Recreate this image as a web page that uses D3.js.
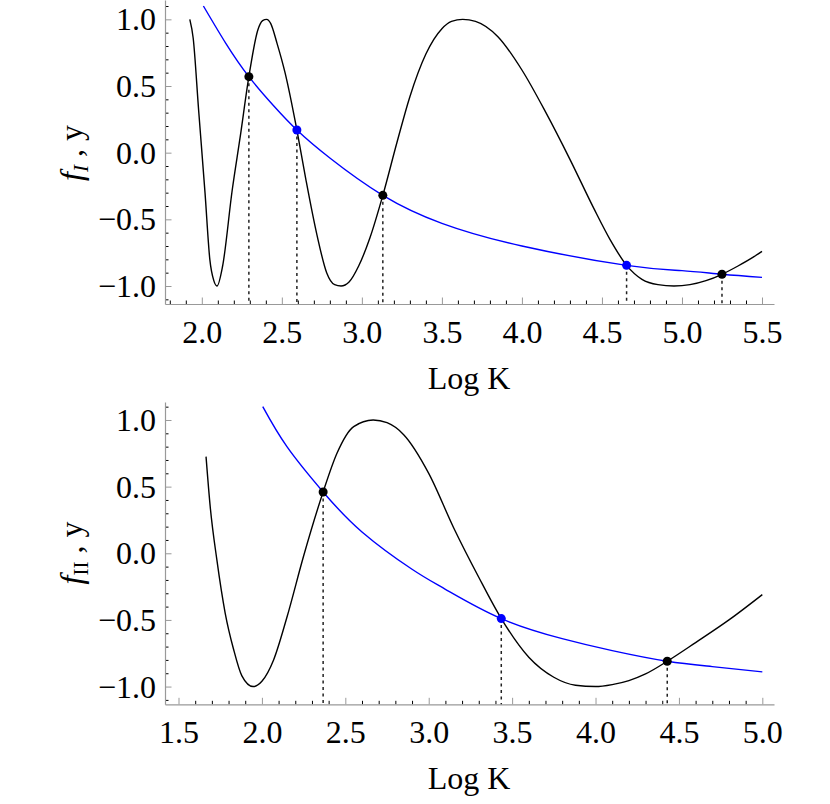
<!DOCTYPE html>
<html lang="en">
<head>
<meta charset="utf-8">
<title>f_I and f_II versus Log K</title>
<script src="https://cdn.jsdelivr.net/npm/d3@7"></script>
<style>
  body { margin: 0; background: #fff; }
  svg text { font-family: "Liberation Serif", "Times New Roman", serif; fill: #000; }
</style>
</head>
<body>
<script>

// top panel (f_I)
var topOsc = [[1.925,1.0],[1.946,0.86],[1.98,0.32],[2.02,-0.3],[2.05,-0.8],[2.075,-0.96],[2.095,-1.0],
  [2.13,-0.85],[2.19,-0.28],[2.24,0.12],[2.294,0.57],[2.35,0.92],[2.38,0.99],[2.405,1.0],
  [2.43,0.97],[2.47,0.82],[2.52,0.6],[2.594,0.17],[2.65,-0.2],[2.72,-0.62],[2.78,-0.9],[2.83,-0.99],[2.87,-1.0],
  [2.92,-0.97],[2.98,-0.85],[3.05,-0.64],[3.131,-0.32],[3.22,0.08],[3.3,0.42],[3.4,0.74],[3.5,0.93],[3.56,0.985],[3.63,1.0],
  [3.71,0.985],[3.85,0.87],[4.0,0.62],[4.15,0.3],[4.3,-0.05],[4.45,-0.42],[4.55,-0.65],[4.654,-0.845],[4.75,-0.95],[4.85,-0.99],[4.95,-1.0],
  [5.05,-0.99],[5.15,-0.96],[5.25,-0.912],[5.35,-0.85],[5.45,-0.78],[5.5,-0.74]];
var topBlue = [[2.01,1.10],[2.15,0.82],[2.294,0.57],[2.45,0.35],[2.594,0.17],[2.8,-0.04],[3.131,-0.32],
  [3.5,-0.53],[4.0,-0.70],[4.654,-0.845],[5.0,-0.885],[5.25,-0.912],[5.5,-0.935]];
var topDots = [[2.294,0.57,"black"],[2.594,0.17,"blue"],[3.131,-0.32,"black"],[4.654,-0.845,"blue"],[5.25,-0.912,"black"]];
var topXTicks = [2.0,2.5,3.0,3.5,4.0,4.5,5.0,5.5];

// bottom panel (f_II)
var botOsc = [[1.665,0.725],[1.69,0.35],[1.73,-0.05],[1.78,-0.45],[1.83,-0.72],[1.88,-0.92],[1.947,-1.0],
  [2.0,-0.96],[2.07,-0.8],[2.15,-0.48],[2.25,-0.02],[2.367,0.46],[2.45,0.75],[2.55,0.95],[2.667,1.0],
  [2.75,0.98],[2.85,0.89],[3.0,0.6],[3.15,0.19],[3.3,-0.18],[3.435,-0.49],[3.6,-0.78],[3.75,-0.93],[3.88,-0.99],[4.0,-1.0],
  [4.1,-0.985],[4.2,-0.955],[4.3,-0.905],[4.43,-0.81],[4.6,-0.67],[4.8,-0.5],[5.0,-0.31]];
var botBlue = [[2.005,1.10],[2.15,0.80],[2.367,0.46],[2.6,0.16],[2.9,-0.12],[3.1,-0.27],[3.435,-0.49],
  [3.8,-0.64],[4.1,-0.73],[4.43,-0.81],[4.7,-0.85],[5.0,-0.89]];
var botDots = [[2.367,0.46,"black"],[3.435,-0.49,"blue"],[4.43,-0.81,"black"]];
var botXTicks = [1.5,2.0,2.5,3.0,3.5,4.0,4.5,5.0];

var yTicks = [-1.0,-0.5,0.0,0.5,1.0];

var svg = d3.select("body").append("svg").attr("width",830).attr("height",804);

function panel(o) {
  var x = d3.scaleLinear().domain(o.xdom).range([165,774]);
  var y = d3.scaleLinear().domain(o.ydom).range(o.yrange);
  var g = svg.append("g");
  var y0 = o.yrange[0];

  var minorX = d3.range(Math.ceil(o.xdom[0]*10), Math.floor(o.xdom[1]*10)+1).map(function(i){return i/10;})
    .filter(function(v){return topXTicks.concat(botXTicks).every(function(t){return Math.abs(t-v)>1e-6;});});
  var minorY = d3.range(-11,12).map(function(i){return i/10;})
    .filter(function(v){return yTicks.every(function(t){return Math.abs(t-v)>1e-6;});});

  // minor ticks
  g.append("g").attr("transform","translate(0,"+y0+")")
    .call(d3.axisBottom(x).tickValues(minorX).tickSize(-3.5).tickSizeOuter(0).tickFormat(""))
    .call(function(a){a.select(".domain").remove();});
  g.append("g").attr("transform","translate(165,0)")
    .call(d3.axisLeft(y).tickValues(minorY).tickSize(-3.5).tickSizeOuter(0).tickFormat(""))
    .call(function(a){a.select(".domain").remove();});

  // major ticks + labels
  var xa = g.append("g").attr("transform","translate(0,"+y0+")")
    .call(d3.axisBottom(x).tickValues(o.xticks).tickSize(-6.5).tickSizeOuter(0).tickPadding(16).tickFormat(d3.format(".1f")));
  var ya = g.append("g").attr("transform","translate(165,0)")
    .call(d3.axisLeft(y).tickValues(yTicks).tickSize(-6.5).tickSizeOuter(0).tickPadding(9)
      .tickFormat(function(d){return d3.format(".1f")(d).replace("-","\u2212");}));
  [xa,ya].forEach(function(a){
    a.selectAll("text").style("font-size","32px").attr("fill","#000");
    a.selectAll("line").attr("stroke","#999");
    a.select(".domain").attr("stroke","#999").attr("stroke-width",1.2);
  });
  ya.selectAll("text").attr("dy","0.33em");

  // dashed drop lines
  g.selectAll(".drop").data(o.dots).enter().append("line")
    .attr("x1",function(d){return x(d[0]);}).attr("x2",function(d){return x(d[0]);})
    .attr("y1",function(d){return y(d[1]);}).attr("y2",y0)
    .attr("stroke","#222").attr("stroke-width",1.5).attr("stroke-dasharray","3,3.5");

  var line = d3.line().x(function(d){return x(d[0]);}).y(function(d){return y(d[1]);});
  g.append("path").attr("d",line.curve(d3.curveNatural)(o.blue)).attr("fill","none").attr("stroke","#0000ff").attr("stroke-width",1.4);
  g.append("path").attr("d",line.curve(d3.curveMonotoneX)(o.osc)).attr("fill","none").attr("stroke","#000").attr("stroke-width",1.4);

  g.selectAll(".dot").data(o.dots).enter().append("circle")
    .attr("cx",function(d){return x(d[0]);}).attr("cy",function(d){return y(d[1]);})
    .attr("r",4.5).attr("fill",function(d){return d[2]==="blue"?"#0000ff":"#000";});

  // axis titles
  g.append("text").attr("x",469).attr("y",y0+85).attr("text-anchor","middle")
    .style("font-size","32px").text("Log K");
  var yl = g.append("text").attr("transform","translate(82,"+o.ylabelY+") rotate(-90)")
    .attr("text-anchor","middle").style("font-size","32px");
  yl.append("tspan").style("font-style","italic").text("f");
  yl.append("tspan").attr("dy",6).style("font-size","21px").style("font-style",o.subItalic?"italic":"normal").text(o.sub);
  yl.append("tspan").attr("dy",-6).text(" , y");
}

panel({xdom:[1.77,5.575], ydom:[-1.135,1.145], yrange:[304,0], xticks:topXTicks,
  osc:topOsc, blue:topBlue, dots:topDots, sub:"I", subItalic:true, ylabelY:153});
panel({xdom:[1.419,5.07], ydom:[-1.133,1.135], yrange:[704.3,402], xticks:botXTicks,
  osc:botOsc, blue:botBlue, dots:botDots, sub:"II", subItalic:false, ylabelY:553});

</script>
</body>
</html>
